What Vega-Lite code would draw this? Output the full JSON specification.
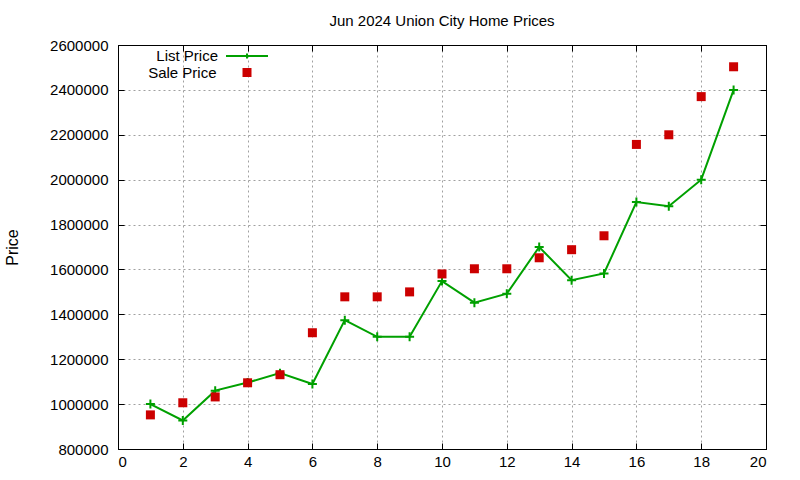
{
  "$schema": "https://vega.github.io/schema/vega-lite/v6.json",
  "description": "Jun 2024 Union City home prices: list price line and sale price points.",
  "autosize": {"type": "none"},
  "padding": {"left": 118, "top": 45, "right": 34, "bottom": 31},
  "width": 648,
  "height": 404,
  "background": "white",
  "title": {
    "text": "Jun 2024 Union City Home Prices",
    "fontSize": 15,
    "fontWeight": "normal",
    "font": "Liberation Sans",
    "offset": 5
  },
  "data": {
    "values": [
      {"n": 1, "list": 1000000, "sale": 952000},
      {"n": 2, "list": 927000, "sale": 1006000},
      {"n": 3, "list": 1060000, "sale": 1032000},
      {"n": 4, "list": 1096000, "sale": 1095000},
      {"n": 5, "list": 1138000, "sale": 1131000},
      {"n": 6, "list": 1090000, "sale": 1318000},
      {"n": 7, "list": 1374000, "sale": 1478000},
      {"n": 8, "list": 1300000, "sale": 1478000},
      {"n": 9, "list": 1300000, "sale": 1500000},
      {"n": 10, "list": 1548000, "sale": 1580000},
      {"n": 11, "list": 1452000, "sale": 1603000},
      {"n": 12, "list": 1492000, "sale": 1603000},
      {"n": 13, "list": 1700000, "sale": 1652000},
      {"n": 14, "list": 1552000, "sale": 1688000},
      {"n": 15, "list": 1582000, "sale": 1750000},
      {"n": 16, "list": 1900000, "sale": 2157000},
      {"n": 17, "list": 1882000, "sale": 2200000},
      {"n": 18, "list": 2000000, "sale": 2370000},
      {"n": 19, "list": 2400000, "sale": 2503000}
    ]
  },
  "layer": [
    {
      "mark": {"type": "line", "strokeWidth": 2},
      "encoding": {
        "x": {
          "field": "n",
          "type": "quantitative",
          "scale": {"domain": [0, 20], "nice": false},
          "axis": {"values": [0, 2, 4, 6, 8, 10, 12, 14, 16, 18, 20], "title": null, "grid": true}
        },
        "y": {
          "field": "list",
          "type": "quantitative",
          "scale": {"domain": [800000, 2600000], "nice": false, "zero": false},
          "axis": {
            "values": [800000, 1000000, 1200000, 1400000, 1600000, 1800000, 2000000, 2200000, 2400000, 2600000],
            "format": "d",
            "title": "Price",
            "grid": true
          }
        },
        "stroke": {
          "datum": "List Price",
          "scale": {"range": ["#00a000"]},
          "legend": {
            "title": null,
            "orient": "none",
            "legendX": 107,
            "legendY": -11,
            "symbolType": "M-1,0H1M0,-0.12V0.12",
            "symbolSize": 1764,
            "symbolStrokeWidth": 2,
            "labelAlign": "right",
            "labelOffset": -51
          }
        }
      }
    },
    {
      "mark": {
        "type": "point",
        "shape": "M-1,0H1M0,-1V1",
        "size": 81,
        "filled": false,
        "strokeWidth": 2,
        "opacity": 1,
        "color": "#00a000"
      },
      "encoding": {
        "x": {
          "field": "n",
          "type": "quantitative",
          "axis": {"orient": "top", "labels": false, "grid": false, "title": null, "values": [0, 2, 4, 6, 8, 10, 12, 14, 16, 18, 20]}
        },
        "y": {
          "field": "list",
          "type": "quantitative",
          "axis": {
            "orient": "right",
            "labels": false,
            "grid": false,
            "title": null,
            "values": [800000, 1000000, 1200000, 1400000, 1600000, 1800000, 2000000, 2200000, 2400000, 2600000]
          }
        }
      }
    },
    {
      "mark": {"type": "point", "shape": "square", "size": 81, "filled": true, "opacity": 1},
      "encoding": {
        "x": {"field": "n", "type": "quantitative", "axis": null},
        "y": {"field": "sale", "type": "quantitative", "axis": null},
        "fill": {
          "datum": "Sale Price",
          "scale": {"range": ["#cc0000"]},
          "legend": {
            "title": null,
            "orient": "none",
            "legendX": 121.5,
            "legendY": 20,
            "symbolType": "square",
            "symbolSize": 81,
            "symbolOpacity": 1,
            "labelAlign": "right",
            "labelOffset": -38
          }
        }
      }
    }
  ],
  "resolve": {"axis": {"x": "independent", "y": "independent"}},
  "config": {
    "font": "Liberation Sans",
    "view": {"stroke": "black", "strokeWidth": 1},
    "axis": {
      "domainColor": "black",
      "tickColor": "black",
      "tickSize": -6,
      "labelFont": "Liberation Sans",
      "labelFontSize": 15,
      "labelColor": "black",
      "titleFont": "Liberation Sans",
      "titleFontSize": 16,
      "titleFontWeight": "normal",
      "titleColor": "black",
      "gridColor": "#a0a0a0",
      "gridDash": [2, 3],
      "gridWidth": 1
    },
    "axisBottom": {"labelPadding": 11},
    "axisLeft": {"labelPadding": 16, "titlePadding": 29},
    "legend": {
      "padding": 0,
      "labelFont": "Liberation Sans",
      "labelFontSize": 15,
      "labelColor": "black",
      "rowPadding": 2
    }
  }
}
